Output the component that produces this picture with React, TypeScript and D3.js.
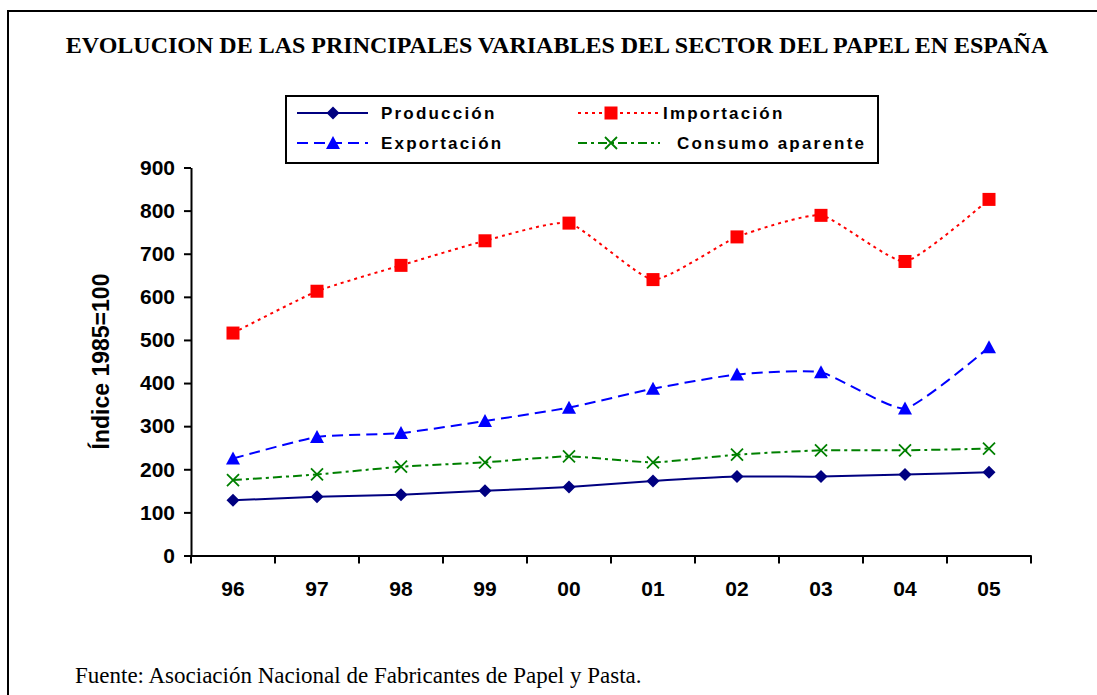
import React, { useEffect, useRef } from "react";
import * as d3 from "d3";

// chart values
const years = ["96", "97", "98", "99", "00", "01", "02", "03", "04", "05"];
const produccion = [128, 136, 141, 150, 159, 173, 183, 183, 188, 193];
const importacion = [516, 613, 673, 730, 771, 640, 739, 789, 682, 826];
const exportacion = [225, 275, 284, 312, 343, 387, 420, 425, 341, 483];
const consumo = [175, 188, 206, 216, 230, 216, 234, 244, 244, 248];
const yTicks = [0, 100, 200, 300, 400, 500, 600, 700, 800, 900];

const W = 1097;
const H = 695;

type Marker = "diamond" | "square" | "triangle" | "x";

interface Series {
  name: string;
  values: number[];
  color: string;
  dash: string | null;
  marker: Marker;
}

const series: Series[] = [
  { name: "Producción", values: produccion, color: "#000080", dash: null, marker: "diamond" },
  { name: "Importación", values: importacion, color: "#FF0000", dash: "3,4", marker: "square" },
  { name: "Exportación", values: exportacion, color: "#0000FF", dash: "11,6", marker: "triangle" },
  { name: "Consumo aparente", values: consumo, color: "#008000", dash: "9,4,3,4", marker: "x" },
];

function drawMarker(
  g: d3.Selection<SVGGElement, unknown, null, undefined>,
  kind: Marker,
  x: number,
  y: number,
  color: string
) {
  if (kind === "diamond") {
    g.append("path")
      .attr("d", `M${x},${y - 6.5}L${x + 6.5},${y}L${x},${y + 6.5}L${x - 6.5},${y}Z`)
      .attr("fill", color);
  } else if (kind === "square") {
    g.append("rect")
      .attr("x", x - 6.5)
      .attr("y", y - 6.5)
      .attr("width", 13)
      .attr("height", 13)
      .attr("fill", color);
  } else if (kind === "triangle") {
    g.append("path")
      .attr("d", `M${x},${y - 7}L${x + 7},${y + 6}L${x - 7},${y + 6}Z`)
      .attr("fill", color);
  } else {
    g.append("path")
      .attr("d", `M${x - 6},${y - 6}L${x + 6},${y + 6}M${x - 6},${y + 6}L${x + 6},${y - 6}`)
      .attr("stroke", color)
      .attr("stroke-width", 1.8)
      .attr("fill", "none");
  }
}

const App: React.FC = () => {
  const svgRef = useRef<SVGSVGElement | null>(null);

  useEffect(() => {
    if (!svgRef.current) return;
    const root = d3.select(svgRef.current);
    root.selectAll("*").remove();

    const margin = { left: 191, right: 1031, top: 167.5, bottom: 555.5 };
    const sans = "Liberation Sans, Arial, sans-serif";
    const serif = "Liberation Serif, Times New Roman, serif";

    // outer frame (runs off the right and bottom edges)
    root
      .append("rect")
      .attr("x", 8)
      .attr("y", 11)
      .attr("width", 1200)
      .attr("height", 800)
      .attr("fill", "white")
      .attr("stroke", "black")
      .attr("stroke-width", 2);

    // title
    root
      .append("text")
      .attr("x", 557)
      .attr("y", 53)
      .attr("text-anchor", "middle")
      .attr("font-family", serif)
      .attr("font-weight", "bold")
      .attr("font-size", "24px")
      .text("EVOLUCION DE LAS PRINCIPALES VARIABLES DEL SECTOR DEL PAPEL EN ESPAÑA");

    const x = d3.scaleBand<string>().domain(years).range([margin.left, margin.right]);
    const y = d3.scaleLinear().domain([0, 900]).range([margin.bottom, margin.top]);
    const cx = (d: string) => (x(d) ?? 0) + x.bandwidth() / 2;

    // x axis
    const xAxis = root
      .append("g")
      .attr("transform", `translate(0,${margin.bottom})`)
      .call(d3.axisBottom(x).tickSize(0).tickFormat(() => ""));
    xAxis.select(".domain").attr("stroke", "black").attr("stroke-width", 2);
    xAxis.selectAll(".tick").remove();

    const xTickPos = years.map((d) => x(d) ?? 0).concat([margin.right]);
    root
      .append("g")
      .selectAll("line")
      .data(xTickPos)
      .enter()
      .append("line")
      .attr("x1", (d) => d)
      .attr("x2", (d) => d)
      .attr("y1", margin.bottom)
      .attr("y2", margin.bottom + 8)
      .attr("stroke", "black")
      .attr("stroke-width", 2);

    root
      .append("g")
      .selectAll("text")
      .data(years)
      .enter()
      .append("text")
      .attr("x", (d) => cx(d))
      .attr("y", 596)
      .attr("text-anchor", "middle")
      .attr("font-family", sans)
      .attr("font-weight", "bold")
      .attr("font-size", "21px")
      .text((d) => d);

    // y axis
    const yAxis = root
      .append("g")
      .attr("transform", `translate(${margin.left},0)`)
      .call(d3.axisLeft(y).tickValues(yTicks).tickSize(7).tickSizeOuter(0).tickPadding(9));
    yAxis.select(".domain").attr("stroke", "black").attr("stroke-width", 2);
    yAxis.selectAll(".tick line").attr("stroke", "black").attr("stroke-width", 2);
    yAxis
      .selectAll(".tick text")
      .attr("fill", "black")
      .attr("font-family", sans)
      .attr("font-weight", "bold")
      .attr("font-size", "21px");

    root
      .append("text")
      .attr("transform", `translate(109,${(margin.top + margin.bottom) / 2}) rotate(-90)`)
      .attr("text-anchor", "middle")
      .attr("font-family", sans)
      .attr("font-weight", "bold")
      .attr("font-size", "23px")
      .text("Índice 1985=100");

    // series
    const line = d3
      .line<number>()
      .x((_, i) => cx(years[i]))
      .y((d) => y(d))
      .curve(d3.curveCardinal.tension(0.5));

    series.forEach((s) => {
      root
        .append("path")
        .datum(s.values)
        .attr("fill", "none")
        .attr("stroke", s.color)
        .attr("stroke-width", 2)
        .attr("stroke-dasharray", s.dash)
        .attr("d", line);
      const mg = root.append("g");
      s.values.forEach((v, i) => drawMarker(mg, s.marker, cx(years[i]), y(v), s.color));
    });

    // legend
    const legend = root.append("g");
    legend
      .append("rect")
      .attr("x", 286)
      .attr("y", 96)
      .attr("width", 592)
      .attr("height", 67)
      .attr("fill", "white")
      .attr("stroke", "black")
      .attr("stroke-width", 2);

    const legendPos = [
      { x0: 297, x1: 368, mx: 333, tx: 381, ty: 113 },
      { x0: 578, x1: 660, mx: 611, tx: 663, ty: 113 },
      { x0: 297, x1: 368, mx: 333, tx: 381, ty: 143 },
      { x0: 578, x1: 660, mx: 611, tx: 677, ty: 143 },
    ];
    series.forEach((s, i) => {
      const p = legendPos[i];
      legend
        .append("line")
        .attr("x1", p.x0)
        .attr("x2", p.x1)
        .attr("y1", p.ty)
        .attr("y2", p.ty)
        .attr("stroke", s.color)
        .attr("stroke-width", 2)
        .attr("stroke-dasharray", s.dash);
      drawMarker(legend, s.marker, p.mx, p.ty, s.color);
      legend
        .append("text")
        .attr("x", p.tx)
        .attr("y", p.ty)
        .attr("dy", "0.36em")
        .attr("font-family", sans)
        .attr("font-weight", "bold")
        .attr("font-size", "17px")
        .attr("letter-spacing", "2.2px")
        .text(s.name);
    });

    // source note
    root
      .append("text")
      .attr("x", 75)
      .attr("y", 683)
      .attr("font-family", serif)
      .attr("font-size", "23px")
      .text("Fuente: Asociación Nacional de Fabricantes de Papel y Pasta.");
  }, []);

  return (
    <svg
      ref={svgRef}
      width={W}
      height={H}
      style={{ position: "absolute", left: 0, top: 0, display: "block", background: "white" }}
    />
  );
};

export default App;
